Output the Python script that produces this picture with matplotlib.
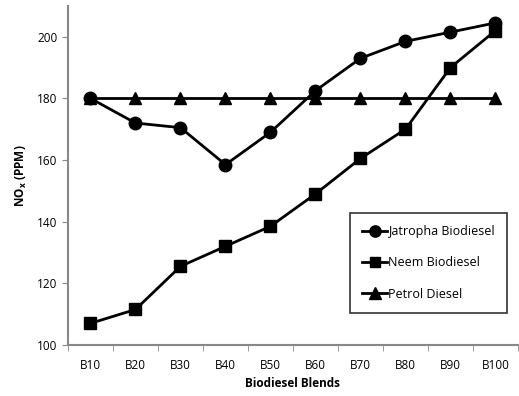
import matplotlib
matplotlib.use('Agg')
import matplotlib.pyplot as plt
import numpy as np

blends = ['B10', 'B20', 'B30', 'B40', 'B50', 'B60', 'B70', 'B80', 'B90', 'B100']
jatropha = [180, 172, 170.5, 158.5, 169, 182.5, 193, 198.5, 201.5, 204.5]
neem = [107, 111.5, 125.5, 132, 138.5, 149, 160.5, 170, 190, 202]
petrol = [180, 180, 180, 180, 180, 180, 180, 180, 180, 180]

plt.rcParams['font.family'] = ['Open Sans', 'DejaVu Sans']
plt.rcParams['font.size'] = 8.5

fig = plt.figure(figsize=(5.19, 3.96), dpi=100)
ax = fig.add_axes([0.131, 0.129, 0.867, 0.856])

x = np.arange(len(blends))
ax.plot(x, jatropha, color='black', lw=2, marker='o', ms=9, label='Jatropha Biodiesel')
ax.plot(x, neem, color='black', lw=2, marker='s', ms=8, label='Neem Biodiesel')
ax.plot(x, petrol, color='black', lw=2, marker='^', ms=9, label='Petrol Diesel')

ax.set_xlim(-0.5, len(blends) - 0.5)
ax.set_ylim(100, 210)
ax.set_yticks([100, 120, 140, 160, 180, 200])
ax.set_xticks(x)
ax.set_xticklabels(blends)
ax.set_xticks(np.arange(-0.5, len(blends), 1), minor=True)
ax.tick_params(axis='x', which='major', length=0, pad=10)
ax.tick_params(axis='x', which='minor', length=4, color='#888888')
ax.tick_params(axis='y', length=4, color='#888888')

for s in ['top', 'right']:
    ax.spines[s].set_visible(False)
for s in ['left', 'bottom']:
    ax.spines[s].set_color('#888888')
    ax.spines[s].set_linewidth(1.5)

ax.set_xlabel('Biodiesel Blends', fontweight='bold', labelpad=4)
ax.set_ylabel('NO$_\\mathregular{x}$ (PPM)', fontweight='bold', labelpad=6)

leg = ax.legend(loc='lower right', bbox_to_anchor=(0.976, 0.094), frameon=True, fancybox=False,
                edgecolor='black', handlelength=2.0, handletextpad=0.05, labelspacing=1.45,
                borderpad=1.0, markerscale=0.9, fontsize=9, borderaxespad=0)
leg.get_frame().set_linewidth(1.2)

fig.savefig('out.png', dpi=100)
